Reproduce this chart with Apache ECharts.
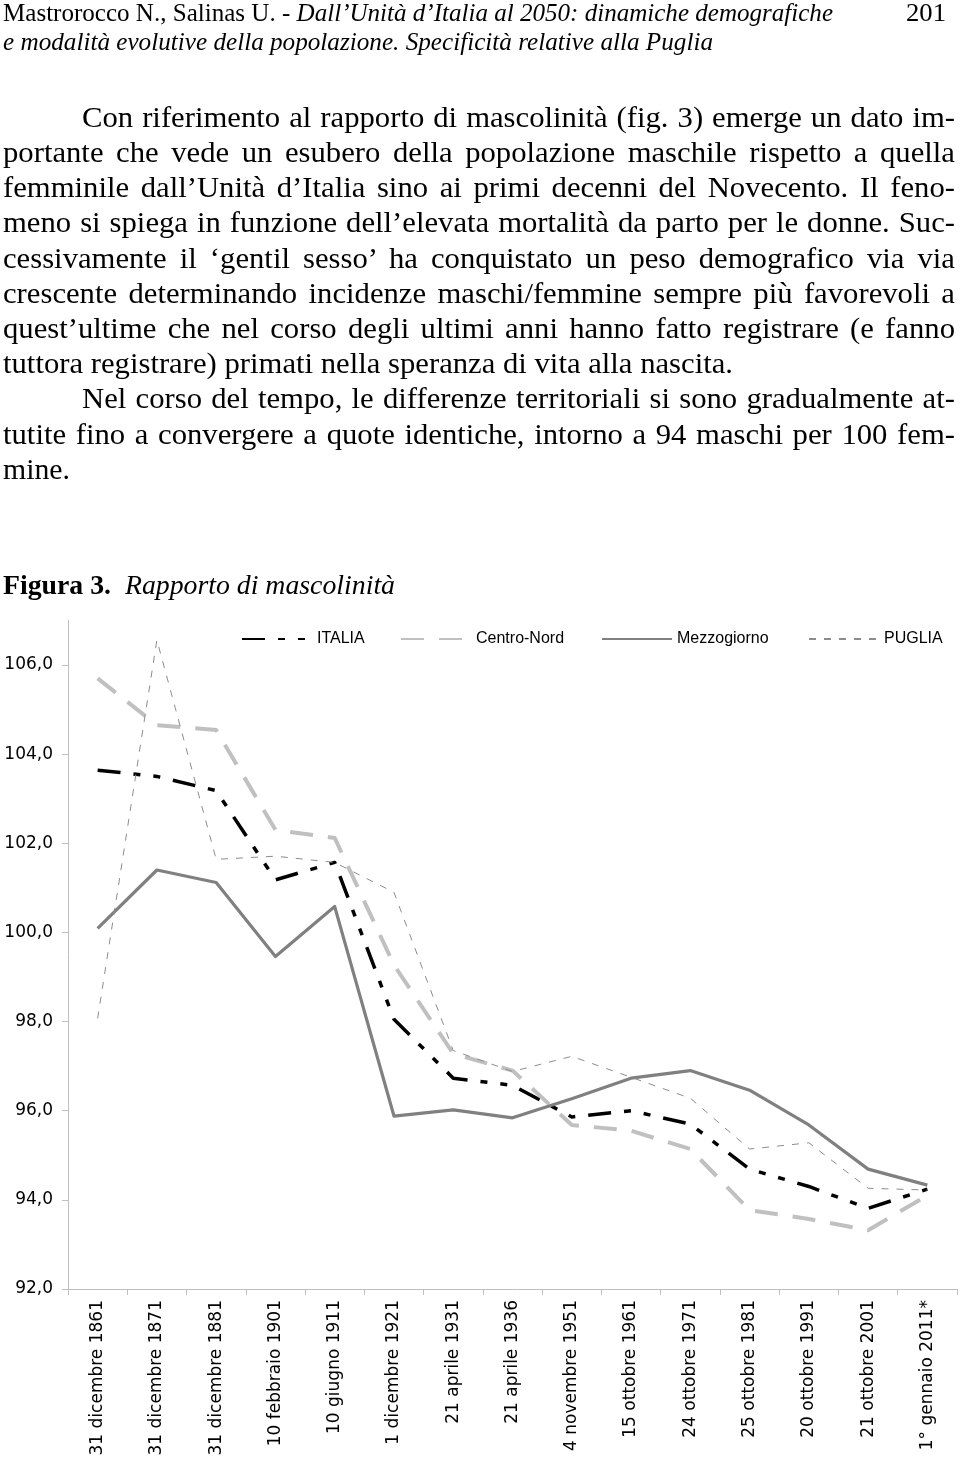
<!DOCTYPE html>
<html><head><meta charset="utf-8">
<script src="https://cdn.jsdelivr.net/npm/echarts@6/dist/echarts.min.js"></script>
<style>
html,body{margin:0;padding:0;background:#fff;}
#page{position:relative;width:960px;height:1459px;overflow:hidden;background:#fff;}
#chart{position:absolute;left:0;top:0;width:960px;height:1459px;}
#text{position:absolute;left:0;top:0;width:960px;height:600px;pointer-events:none;}
.ln{position:absolute;font-family:"Liberation Serif","Times New Roman",serif;color:#000;transform-origin:0 0;}
.nat{white-space:nowrap;}
.j{text-align:justify;text-align-last:justify;}
</style></head>
<body><div id="page"><div id="chart"></div><div id="text"></div></div>
<script>
// ---- data ----
const categories = ['31 dicembre 1861','31 dicembre 1871','31 dicembre 1881','10 febbraio 1901','10 giugno 1911','1 dicembre 1921','21 aprile 1931','21 aprile 1936','4 novembre 1951','15 ottobre 1961','24 ottobre 1971','25 ottobre 1981','20 ottobre 1991','21 ottobre 2001','1° gennaio 2011*'];
const italia      = [103.64,103.50,103.18,101.18,101.57,98.05,96.73,96.57,95.86,96.00,95.70,94.69,94.30,93.81,94.24];
const centroNord  = [105.70,104.65,104.54,102.30,102.12,99.27,97.28,96.90,95.68,95.55,95.14,93.77,93.57,93.32,94.10];
const mezzogiorno = [100.09,101.40,101.12,99.46,100.58,95.88,96.02,95.84,96.27,96.73,96.90,96.46,95.68,94.69,94.33];
const puglia      = [98.07,106.56,101.64,101.71,101.57,100.90,97.35,96.88,97.22,96.75,96.28,95.14,95.28,94.26,94.22];
const yTicks = [92,94,96,98,100,102,104,106];
const seriesNames = ['ITALIA','Centro-Nord','Mezzogiorno','PUGLIA'];

// ---- text ----
const HF = 25, BF = 30, CF = 28;
const lines = [
 {t:'Mastrorocco N., Salinas U. - <i>Dall’Unità d’Italia al 2050: dinamiche demografiche</i>', x:3, b:21, r:833, fit:true, fs:HF},
 {t:'201', x:906, b:21, r:946, fit:true, fs:HF},
 {t:'<i>e modalità evolutive della popolazione. Specificità relative alla Puglia</i>', x:3, b:50, r:713, fit:true, fs:HF},
 {t:'Con riferimento al rapporto di mascolinità (fig. 3) emerge un dato im-', x:82, b:127, r:955, j:true, fs:BF},
 {t:'portante che vede un esubero della popolazione maschile rispetto a quella', x:3, b:162.2, r:955, j:true, fs:BF},
 {t:'femminile dall’Unità d’Italia sino ai primi decenni del Novecento. Il feno-', x:3, b:197.4, r:955, j:true, fs:BF},
 {t:'meno si spiega in funzione dell’elevata mortalità da parto per le donne. Suc-', x:3, b:232.6, r:955, j:true, fs:BF},
 {t:'cessivamente il ‘gentil sesso’ ha conquistato un peso demografico via via', x:3, b:267.8, r:955, j:true, fs:BF},
 {t:'crescente determinando incidenze maschi/femmine sempre più favorevoli a', x:3, b:303, r:955, j:true, fs:BF},
 {t:'quest’ultime che nel corso degli ultimi anni hanno fatto registrare (e fanno', x:3, b:338.2, r:955, j:true, fs:BF},
 {t:'tuttora registrare) primati nella speranza di vita alla nascita.', x:3, b:373.4, r:733, fit:true, ref:true, fs:BF},
 {t:'Nel corso del tempo, le differenze territoriali si sono gradualmente at-', x:82, b:408.6, r:955, j:true, fs:BF},
 {t:'tutite fino a convergere a quote identiche, intorno a 94 maschi per 100 fem-', x:3, b:443.8, r:955, j:true, fs:BF},
 {t:'mine.', x:3, b:479, r:70, fit:true, fs:BF},
 {t:'<b>Figura 3.</b>&nbsp; <i>Rapporto di mascolinità</i>', x:3, b:594, r:395, fit:true, fs:CF}
];
const ASC = 0.891;
const host = document.getElementById('text');
function natWidth(html, fs){
  const s = document.createElement('span');
  s.className = 'ln nat'; s.style.fontSize = fs+'px'; s.style.visibility='hidden'; s.innerHTML = html;
  host.appendChild(s); const w = s.getBoundingClientRect().width; host.removeChild(s); return w;
}
const refLine = lines.find(l=>l.ref);
const S = (refLine.r - refLine.x) / natWidth(refLine.t, refLine.fs);
lines.forEach(l=>{
  const d = document.createElement('div');
  const LH = Math.round(l.fs*1.2);
  const top = l.b - ((LH - l.fs*1.107)/2 + l.fs*ASC);
  d.style.left = l.x+'px'; d.style.top = top+'px';
  d.style.fontSize = l.fs+'px'; d.style.lineHeight = LH+'px';
  d.innerHTML = l.t;
  const target = l.r - l.x;
  const nw = natWidth(l.t, l.fs);
  if (l.fit){
    d.className = 'ln nat';
    d.style.transform = 'scaleX(' + (target/nw) + ')';
  } else {
    let s = Math.min(S, target/(nw+2));
    d.className = 'ln j';
    d.style.width = (target/s) + 'px';
    d.style.transform = 'scaleX(' + s + ')';
  }
  host.appendChild(d);
});

// ---- chart ----
const fmt = v => Number(v).toFixed(1).replace('.', ',');
const styles = {
  'ITALIA':      {color:'#000000', width:3.5, type:[23,13,7,13,7,13]},
  'Centro-Nord': {color:'#c0c0c0', width:4, type:[23,15]},
  'Mezzogiorno': {color:'#808080', width:3.2, type:'solid'},
  'PUGLIA':      {color:'#8c8c8c', width:1, type:[7,8]}
};
const dataMap = {'ITALIA':italia,'Centro-Nord':centroNord,'Mezzogiorno':mezzogiorno,'PUGLIA':puglia};
const legendLeft = [241, 400, 601, 808];
const chart = echarts.init(document.getElementById('chart'), null, {renderer:'canvas'});
chart.setOption({
  animation:false,
  backgroundColor:'transparent',
  grid:{left:68, right:3, top:620.4, bottom:170, containLabel:false, outerBoundsMode:'none'},
  legend: seriesNames.map((n,i)=>({
    data:[{name:n, itemStyle:{opacity:0}}], left:legendLeft[i], top:631, itemWidth:70, itemHeight:14, itemGap:0,
    itemStyle:{opacity:0},
    textStyle:{fontFamily:'Liberation Sans', fontSize:16, color:'#000'},
    padding:0, selectedMode:false
  })),
  xAxis:{
    type:'category', data:categories, boundaryGap:true,
    axisLine:{show:true, lineStyle:{color:'#bfbfbf', width:1}},
    axisTick:{show:true, length:6, interval:0, lineStyle:{color:'#bfbfbf'}},
    axisLabel:{rotate:90, interval:0, margin:11, fontFamily:'DejaVu Sans', fontSize:17, color:'#000'},
    splitLine:{show:false}
  },
  yAxis:{
    type:'value', min:92, max:107, interval:2,
    axisLine:{show:true, lineStyle:{color:'#bfbfbf', width:1}},
    axisTick:{show:true, length:6, lineStyle:{color:'#bfbfbf'}, customValues:yTicks},
    axisLabel:{formatter:fmt, customValues:yTicks, margin:15, fontFamily:'DejaVu Sans', fontSize:17, color:'#000'},
    splitLine:{show:false}
  },
  series: seriesNames.map((n,i)=>({
    name:n, type:'line', data:dataMap[n], symbol:'none', z:2+i,
    itemStyle:{color:styles[n].color},
    lineStyle:{color:styles[n].color, width:styles[n].width, type:styles[n].type, cap:'butt', join:'round'}
  }))
});
</script>
</body></html>
